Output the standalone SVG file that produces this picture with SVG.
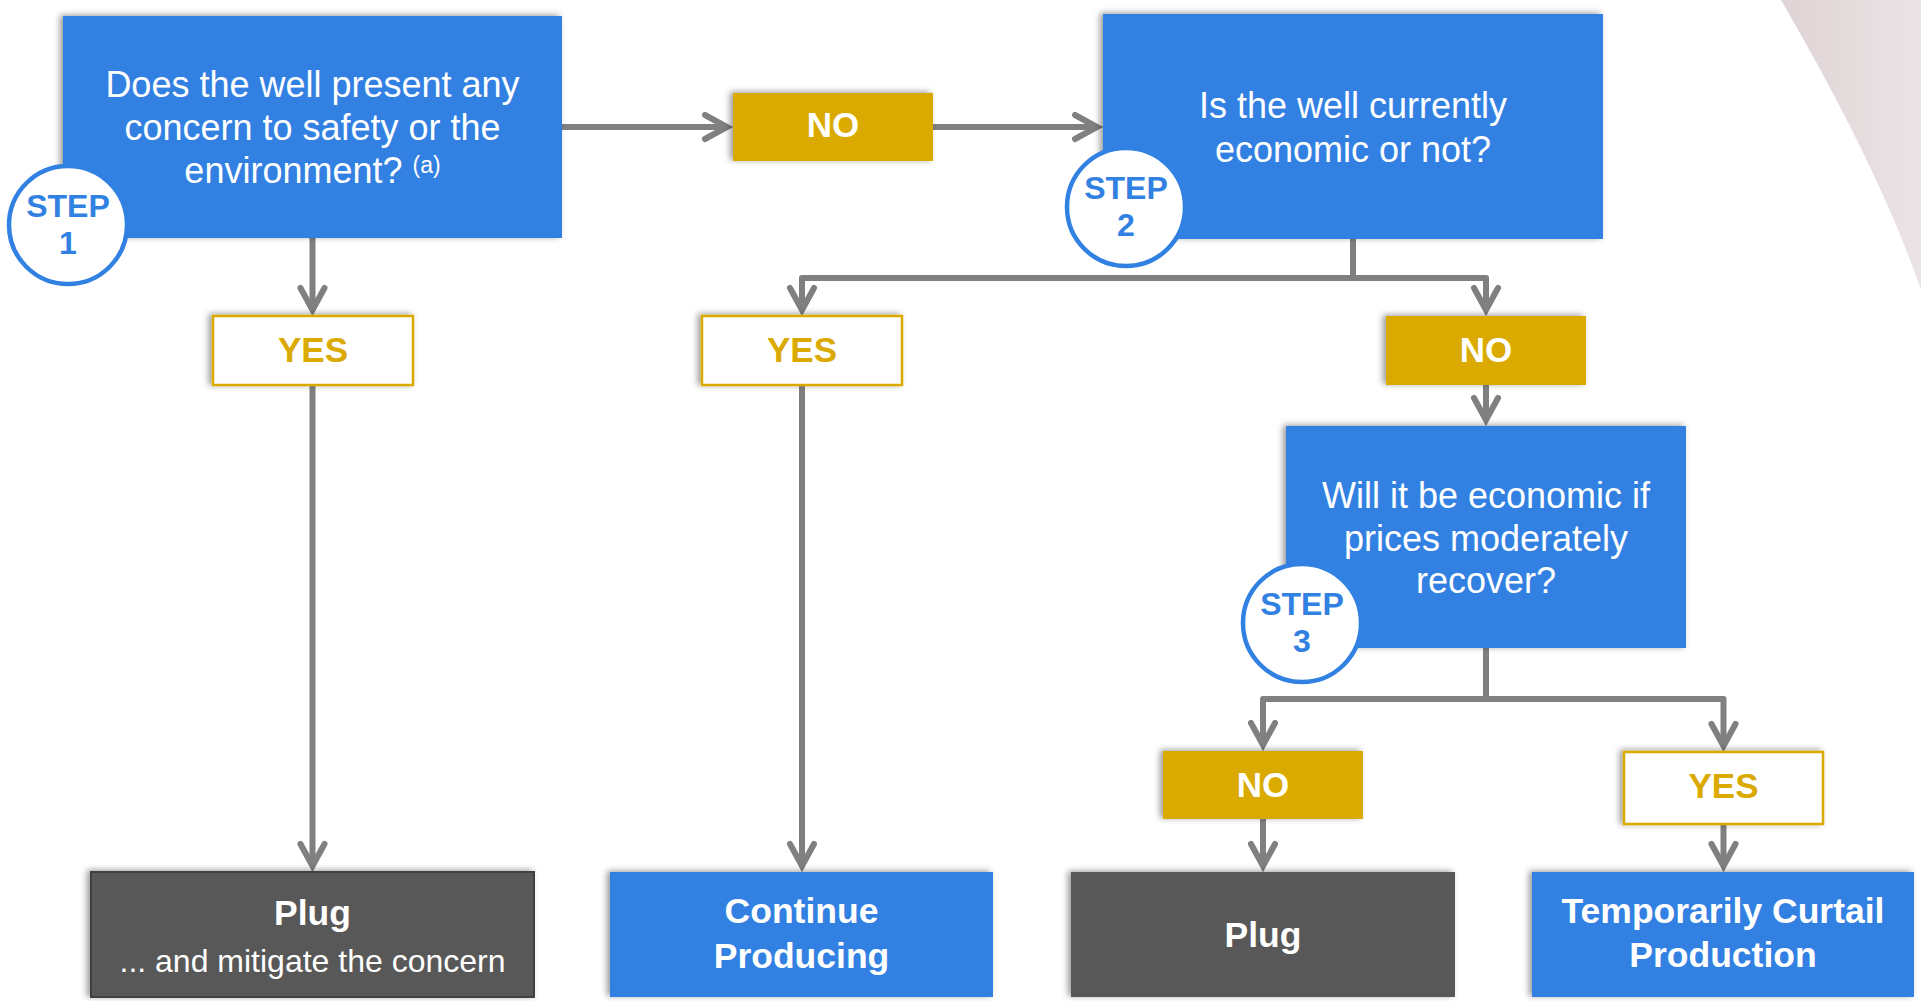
<svg xmlns="http://www.w3.org/2000/svg" width="1921" height="1001" viewBox="0 0 1921 1001">
  <defs>
    <style>
      .t { font-family: "Liberation Sans", Arial, sans-serif; }
      .q { font-size: 36px; fill: #ffffff; text-anchor: middle; }
      .lbl { font-size: 35px; font-weight: bold; text-anchor: middle; }
      .res { font-size: 35.5px; font-weight: bold; fill: #ffffff; text-anchor: middle; }
      .step { font-size: 32px; font-weight: bold; fill: #3181e2; text-anchor: middle; }
      .blue { fill: #3181e2; }
      .gold { fill: #daaa00; }
      .yes { fill: #ffffff; stroke: #daaa00; stroke-width: 2.5; }
      .dark { fill: #595959; }
      .circ { fill: #ffffff; stroke: #3181e2; stroke-width: 4.5; }
      .conn { fill: none; stroke: #808080; stroke-width: 6; stroke-linejoin: round; }
    </style>
    <filter id="sh" x="-10%" y="-20%" width="120%" height="140%">
      <feDropShadow dx="-3" dy="-1" stdDeviation="3" flood-color="#000000" flood-opacity="0.4"/>
    </filter>
    <marker id="arr" markerUnits="userSpaceOnUse" viewBox="-30 -16 40 32" markerWidth="40" markerHeight="32" refX="0" refY="0" orient="auto" overflow="visible">
      <path d="M-22,-12 L0,0 L-22,12" fill="none" stroke="#808080" stroke-width="6" stroke-linecap="round"/>
    </marker>
    <linearGradient id="bg" x1="0" y1="0" x2="1" y2="0">
      <stop offset="0" stop-color="#dfd3d5"/>
      <stop offset="1" stop-color="#ebe4e6"/>
    </linearGradient>
  </defs>

  <rect width="1921" height="1001" fill="#ffffff"/>
  <path d="M1781,0 Q1880,170 1921,290 L1921,0 Z" fill="url(#bg)"/>

  <g id="connectors">
    <path class="conn" d="M562,127 H727" marker-end="url(#arr)"/>
    <path class="conn" d="M933,127 H1097" marker-end="url(#arr)"/>
    <path class="conn" d="M312.5,238 V310" marker-end="url(#arr)"/>
    <path class="conn" d="M312.5,385 V866" marker-end="url(#arr)"/>
    <path class="conn" d="M1353,239 V278 H802 V310" marker-end="url(#arr)"/>
    <path class="conn" d="M1353,278 H1486 V310" marker-end="url(#arr)"/>
    <path class="conn" d="M802,385 V866" marker-end="url(#arr)"/>
    <path class="conn" d="M1486,385 V420" marker-end="url(#arr)"/>
    <path class="conn" d="M1486,648 V699 H1263 V745" marker-end="url(#arr)"/>
    <path class="conn" d="M1486,699 H1723.5 V746" marker-end="url(#arr)"/>
    <path class="conn" d="M1263,819 V866" marker-end="url(#arr)"/>
    <path class="conn" d="M1723.5,824 V866" marker-end="url(#arr)"/>
  </g>

  <g id="q1">
    <rect class="blue" x="63" y="16" width="499" height="222" filter="url(#sh)"/>
    <text class="t q" x="312.5" y="97">Does the well present any</text>
    <text class="t q" x="312.5" y="140">concern to safety or the</text>
    <text class="t q" x="312.5" y="183">environment? <tspan font-size="23" dy="-10">(a)</tspan></text>
  </g>
  <g id="step1">
    <circle class="circ" cx="68" cy="225" r="59"/>
    <text class="t step" x="68" y="217">STEP</text>
    <text class="t step" x="68" y="254">1</text>
  </g>

  <g id="no1">
    <rect class="gold" x="733" y="93" width="200" height="68" filter="url(#sh)"/>
    <text class="t lbl" x="833" y="137" fill="#ffffff">NO</text>
  </g>

  <g id="q2">
    <rect class="blue" x="1103" y="14" width="500" height="225" filter="url(#sh)"/>
    <text class="t q" x="1353" y="118">Is the well currently</text>
    <text class="t q" x="1353" y="162">economic or not?</text>
  </g>
  <g id="step2">
    <circle class="circ" cx="1126" cy="207" r="59"/>
    <text class="t step" x="1126" y="199">STEP</text>
    <text class="t step" x="1126" y="236">2</text>
  </g>

  <g id="yes1">
    <rect class="yes" x="213" y="316" width="200" height="69" filter="url(#sh)"/>
    <text class="t lbl" x="313" y="362" fill="#daaa00">YES</text>
  </g>
  <g id="yes2">
    <rect class="yes" x="702" y="316" width="200" height="69" filter="url(#sh)"/>
    <text class="t lbl" x="802" y="362" fill="#daaa00">YES</text>
  </g>
  <g id="no2">
    <rect class="gold" x="1386" y="316" width="200" height="69" filter="url(#sh)"/>
    <text class="t lbl" x="1486" y="362" fill="#ffffff">NO</text>
  </g>

  <g id="q3">
    <rect class="blue" x="1286" y="426" width="400" height="222" filter="url(#sh)"/>
    <text class="t q" x="1486" y="508">Will it be economic if</text>
    <text class="t q" x="1486" y="551">prices moderately</text>
    <text class="t q" x="1486" y="593">recover?</text>
  </g>
  <g id="step3">
    <circle class="circ" cx="1302" cy="623" r="59"/>
    <text class="t step" x="1302" y="615">STEP</text>
    <text class="t step" x="1302" y="652">3</text>
  </g>

  <g id="no3">
    <rect class="gold" x="1163" y="751" width="200" height="68" filter="url(#sh)"/>
    <text class="t lbl" x="1263" y="797" fill="#ffffff">NO</text>
  </g>
  <g id="yes3">
    <rect class="yes" x="1624" y="752" width="199" height="72" filter="url(#sh)"/>
    <text class="t lbl" x="1723.5" y="798" fill="#daaa00">YES</text>
  </g>

  <g id="plug1">
    <rect class="dark" x="91" y="872" width="443" height="125" stroke="#3f3f3f" stroke-width="2" filter="url(#sh)"/>
    <text class="t res" x="312.5" y="925">Plug</text>
    <text class="t" x="312.5" y="972" font-size="32" fill="#ffffff" text-anchor="middle">... and mitigate the concern</text>
  </g>
  <g id="continue">
    <rect class="blue" x="610" y="872" width="383" height="125" filter="url(#sh)"/>
    <text class="t res" x="801.5" y="923">Continue</text>
    <text class="t res" x="801.5" y="968">Producing</text>
  </g>
  <g id="plug2">
    <rect class="dark" x="1071" y="872" width="384" height="125" filter="url(#sh)"/>
    <text class="t res" x="1263" y="947">Plug</text>
  </g>
  <g id="curtail">
    <rect class="blue" x="1532" y="872" width="382" height="125" filter="url(#sh)"/>
    <text class="t res" x="1723" y="923">Temporarily Curtail</text>
    <text class="t res" x="1723" y="967">Production</text>
  </g>
</svg>
